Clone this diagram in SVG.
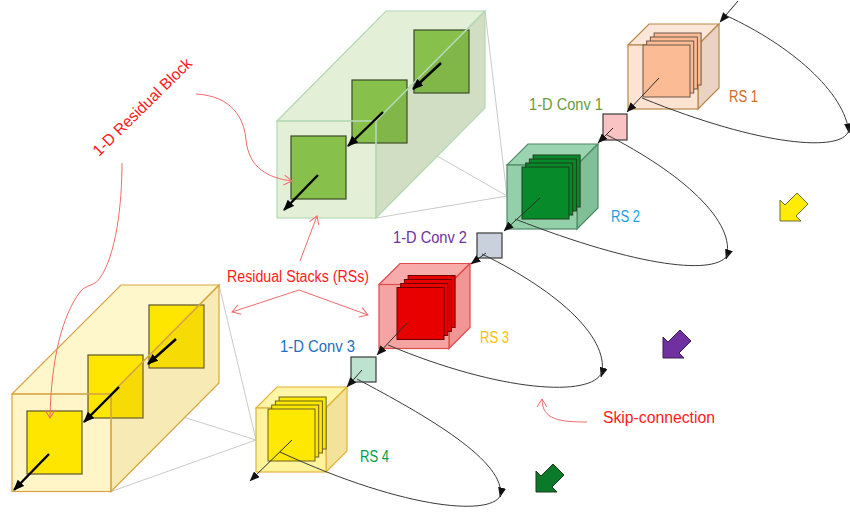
<svg xmlns="http://www.w3.org/2000/svg" width="850" height="516" viewBox="0 0 850 516">
  <style>
    text { font-family: "Liberation Sans", Arial, sans-serif; font-size: 16px; }
    .proj { stroke: #cacaca; stroke-width: 1; fill: none; }
    .flow { stroke: #2b2b2b; stroke-width: 1; fill: none; marker-end: url(#tri); }
    .skip { stroke: #3a3a3a; stroke-width: 1; fill: none; }
    .skip-a { stroke: #3a3a3a; stroke-width: 1; fill: none; marker-end: url(#tri); }
    .inner { stroke: #000; stroke-width: 2.4; fill: none; marker-end: url(#triBig); }
    .note-a { stroke: #f36a6a; stroke-width: 1; fill: none; marker-end: url(#vee); }
    .red { fill: #ff1a1a; }
    .conv { stroke: #3a3a3a; stroke-width: 1.2; }
    .slab { stroke-width: 1; }
    .big-arrow { stroke-width: 1; }
  </style>
  <defs>
    <marker id="tri" viewBox="0 0 10 8" refX="9.5" refY="4" markerWidth="10" markerHeight="8" orient="auto" markerUnits="userSpaceOnUse">
      <path d="M0,0 L10,4 L0,8 z" fill="#111"/>
    </marker>
    <marker id="triBig" viewBox="0 0 11 9" refX="10" refY="4.5" markerWidth="11" markerHeight="9" orient="auto" markerUnits="userSpaceOnUse">
      <path d="M0,0 L11,4.5 L0,9 z" fill="#000"/>
    </marker>
    <marker id="vee" viewBox="-1 -6 10 12" refX="8" refY="0" markerWidth="10" markerHeight="12" orient="auto" markerUnits="userSpaceOnUse">
      <path d="M0,-5 L8,0 L0,5" fill="none" stroke="#f36a6a" stroke-width="1"/>
    </marker>
    <!-- block arrow pointing down-left, tip at origin -->
    <path id="blockArrow" d="M0,0 L0,-21 L5,-16 L17,-28 L28,-17 L16,-5 L21,0 z"/>
    <!-- residual-stack cube frame, front face at origin -->
    <polygon id="cubeTop" points="0,0 21,-21 91,-21 70,0"/>
    <polygon id="cubeSide" points="70,0 91,-21 91,43 70,64"/>
    <rect id="cubeFront" x="0" y="0" width="70" height="64"/>
    <rect id="slabShape" x="0" y="0" width="47" height="52"/>
  </defs>

  <!-- projection lines from the expanded stacks to their cubes -->
  <g id="projections">
    <line class="proj" x1="485" y1="11" x2="507" y2="196"/>
    <line class="proj" x1="376" y1="121" x2="507" y2="196"/>
    <line class="proj" x1="376" y1="218" x2="507" y2="196"/>
    <line class="proj" x1="219" y1="285" x2="256" y2="440"/>
    <line class="proj" x1="111" y1="394" x2="256" y2="440"/>
    <line class="proj" x1="111" y1="491.5" x2="256" y2="440"/>
  </g>

  <!-- expanded residual stack (green) -->
  <g id="stack-green">
    <polygon points="277,121 386,11 485,11 376,121" fill="#e4efd7"/>
    <polygon points="376,121 485,11 485,108 376,218" fill="#e4efd7"/>
    <rect x="277" y="121" width="99" height="97" fill="#e4efd7"/>
    <g fill="#87c14b" stroke="#3b4a28" stroke-width="1.2">
      <rect x="291" y="136" width="55" height="63"/>
      <rect x="352" y="80" width="55" height="63"/>
      <rect x="414" y="30" width="55" height="63"/>
    </g>
    <polygon points="376,121 485,11 485,108 376,218" fill="#5e6e40" fill-opacity="0.13"/>
    <g fill="none" stroke="#b2d9b4" stroke-width="1.2">
      <polygon points="277,121 386,11 485,11 376,121"/>
      <polygon points="376,121 485,11 485,108 376,218"/>
      <rect x="277" y="121" width="99" height="97"/>
    </g>
  </g>

  <!-- expanded residual stack (yellow) -->
  <g id="stack-yellow">
    <polygon points="12,394 121,285 219,285 111,394" fill="#fff7cc"/>
    <polygon points="111,394 219,285 219,383 111,491.5" fill="#fff7cc"/>
    <rect x="12" y="394" width="99" height="97.5" fill="#fff5c6"/>
    <g fill="#ffe600" stroke="#5a5530" stroke-width="1.2">
      <rect x="27" y="411" width="55" height="63"/>
      <rect x="88" y="355" width="55" height="63"/>
      <rect x="149" y="305" width="55" height="63"/>
    </g>
    <polygon points="111,394 219,285 219,383 111,491.5" fill="#c89a20" fill-opacity="0.14"/>
    <g fill="none" stroke="#d7a544" stroke-width="1.2">
      <polygon points="12,394 121,285 219,285 111,394"/>
      <polygon points="111,394 219,285 219,383 111,491.5"/>
      <rect x="12" y="394" width="99" height="97.5"/>
    </g>
  </g>

  <!-- RS 1 -->
  <g id="rs1">
    <g transform="translate(628,45)" stroke="#b8894a" stroke-width="1.2">
      <use href="#cubeTop" fill="#fbe6d8"/>
      <use href="#cubeSide" fill="#ebd3c3"/>
      <use href="#cubeFront" fill="#fde3d2"/>
      <g class="slab" fill="#fbbc95" stroke="#6a5548">
        <use href="#slabShape" x="26.1" y="-12"/>
        <use href="#slabShape" x="22.4" y="-8"/>
        <use href="#slabShape" x="18.7" y="-4"/>
        <use href="#slabShape" x="15" y="0"/>
      </g>
    </g>
    <text x="729" y="102" fill="#d2691e" textLength="29" lengthAdjust="spacingAndGlyphs">RS 1</text>
  </g>

  <!-- RS 2 -->
  <g id="rs2">
    <g transform="translate(507,165)" stroke="#4e8a62" stroke-width="1.2">
      <use href="#cubeTop" fill="#9ad4b0"/>
      <use href="#cubeSide" fill="#80bf97"/>
      <use href="#cubeFront" fill="#93cfa9"/>
      <g class="slab" fill="#078a2a" stroke="#1d3d1d">
        <use href="#slabShape" x="26.1" y="-10"/>
        <use href="#slabShape" x="22.4" y="-6"/>
        <use href="#slabShape" x="18.7" y="-2"/>
        <use href="#slabShape" x="15" y="2"/>
      </g>
    </g>
    <text x="611" y="222" fill="#1e9ee8" textLength="29" lengthAdjust="spacingAndGlyphs">RS 2</text>
  </g>

  <!-- RS 3 -->
  <g id="rs3">
    <g transform="translate(379,284.5)" stroke="#e04a4a" stroke-width="1.2">
      <use href="#cubeTop" fill="#f7abab"/>
      <use href="#cubeSide" fill="#f29595"/>
      <use href="#cubeFront" fill="#f5a3a3"/>
      <g class="slab" fill="#e80000" stroke="#6a0000">
        <use href="#slabShape" x="29.1" y="-9"/>
        <use href="#slabShape" x="25.4" y="-5"/>
        <use href="#slabShape" x="21.7" y="-1"/>
        <use href="#slabShape" x="18" y="3"/>
      </g>
    </g>
    <text x="480" y="343" fill="#ffc000" textLength="29" lengthAdjust="spacingAndGlyphs">RS 3</text>
  </g>

  <!-- RS 4 -->
  <g id="rs4">
    <g transform="translate(256,408)" stroke="#e2b23a" stroke-width="1.2">
      <use href="#cubeTop" fill="#fff5a6"/>
      <use href="#cubeSide" fill="#f3e39a"/>
      <use href="#cubeFront" fill="#fff49c"/>
      <g class="slab" fill="#ffe800" stroke="#6a6020">
        <use href="#slabShape" x="23.1" y="-11"/>
        <use href="#slabShape" x="19.4" y="-7"/>
        <use href="#slabShape" x="15.7" y="-3"/>
        <use href="#slabShape" x="12" y="1"/>
      </g>
    </g>
    <text x="360" y="462" fill="#00a04a" textLength="29" lengthAdjust="spacingAndGlyphs">RS 4</text>
  </g>

  <!-- 1-D convolution blocks -->
  <g id="conv1">
    <rect class="conv" x="603" y="114" width="24" height="26" fill="#f9c3c3"/>
    <text x="529" y="110" fill="#6a9a3c" textLength="74" lengthAdjust="spacingAndGlyphs">1-D Conv 1</text>
  </g>
  <g id="conv2">
    <rect class="conv" x="477" y="233" width="25" height="25" fill="#c8d1dc"/>
    <text x="393" y="243" fill="#7030a0" textLength="74" lengthAdjust="spacingAndGlyphs">1-D Conv 2</text>
  </g>
  <g id="conv3">
    <rect class="conv" x="351" y="357" width="25" height="25" fill="#bde3cf"/>
    <text x="280" y="352" fill="#1f6fc0" textLength="75" lengthAdjust="spacingAndGlyphs">1-D Conv 3</text>
  </g>

  <!-- connectors -->
  <g id="connectors">
    <!-- residual block arrows inside the expanded stacks -->
    <line class="inner" x1="318" y1="175" x2="284" y2="210"/>
    <line class="inner" x1="383" y1="112" x2="348" y2="146"/>
    <line class="inner" x1="441" y1="63" x2="413" y2="89"/>
    <line class="inner" x1="49" y1="454" x2="14" y2="490"/>
    <line class="inner" x1="119" y1="387" x2="84" y2="422"/>
    <line class="inner" x1="176" y1="339" x2="148" y2="364"/>

    <!-- main signal path -->
    <line class="flow" x1="738" y1="1" x2="720" y2="22"/>
    <line class="flow" x1="659" y1="78" x2="627" y2="112"/>
    <line class="flow" x1="613" y1="128" x2="598" y2="143"/>
    <line class="flow" x1="540" y1="198" x2="504" y2="231"/>
    <line class="flow" x1="486" y1="253" x2="471" y2="264"/>
    <line class="flow" x1="407" y1="323" x2="377" y2="355"/>
    <line class="flow" x1="362" y1="370" x2="347" y2="387"/>
    <line class="flow" x1="292" y1="440" x2="250" y2="481"/>

    <!-- skip connections -->
    <path class="skip-a" d="M727,16 C790,45 845,92 849,133"/>
    <path class="skip" d="M849,128 C849,152 770,150 642,98"/>
    <path class="skip-a" d="M607,135 C680,172 738,222 726,259"/>
    <path class="skip" d="M728,254 C718,276 640,268 515,219"/>
    <path class="skip-a" d="M482,254 C560,292 612,340 601,377"/>
    <path class="skip" d="M602,372 C592,398 500,392 388,345"/>
    <path class="skip-a" d="M357,379 C425,415 508,462 500,497"/>
    <path class="skip" d="M501,494 C495,516 410,512 280,452"/>
  </g>

  <!-- flow direction arrows -->
  <g id="direction-arrows" stroke-linejoin="miter">
    <use href="#blockArrow" x="780" y="221" fill="#ffec00" stroke="#6b6b3a" class="big-arrow"/>
    <use href="#blockArrow" x="663" y="358" fill="#7030a0" stroke="#3a1a55" class="big-arrow"/>
    <use href="#blockArrow" x="536" y="492" fill="#0a7a2a" stroke="#1a3a1a" class="big-arrow"/>
  </g>

  <!-- annotations -->
  <g id="annotations">
    <text class="red" transform="translate(99,157) rotate(-44.5)" textLength="132" lengthAdjust="spacingAndGlyphs">1-D Residual Block</text>
    <path class="note-a" d="M196,94 C232,96 244,118 246,140 C249,168 268,178 292,181"/>
    <path class="note-a" d="M122,163 C122,205 116,255 100,278 C94,287 86,284 80,292 C62,316 51,360 50,418"/>

    <text class="red" x="227" y="282" textLength="142" lengthAdjust="spacingAndGlyphs">Residual Stacks (RSs)</text>
    <path class="note-a" d="M300,261 L317,216"/>
    <path class="note-a" d="M299,290 L232,312"/>
    <path class="note-a" d="M299,290 L368,315"/>

    <text class="red" x="603" y="423" textLength="112" lengthAdjust="spacingAndGlyphs">Skip-connection</text>
    <path class="note-a" d="M587,422 C560,422 542,420 542,399"/>
  </g>
</svg>
